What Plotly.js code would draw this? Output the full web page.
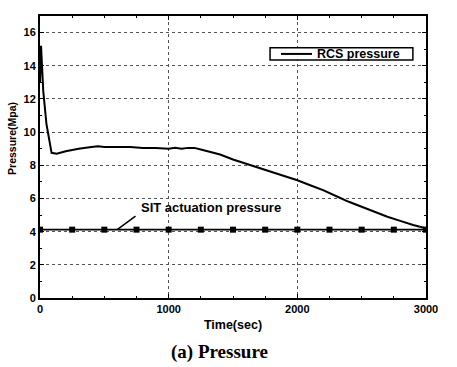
<!DOCTYPE html>
<html><head><meta charset="utf-8">
<script src="https://cdn.plot.ly/plotly-3.0.1.min.js"></script>
<style>html,body{margin:0;padding:0;background:#fff;}#chart{width:457px;height:367px;}</style>
</head><body><div id="chart"></div>
<script>
const rcsTime = [0, 8, 25, 50, 90, 130, 200, 300, 400, 450, 500, 550, 600, 700, 800, 900, 1000, 1050, 1100, 1150, 1200, 1250, 1300, 1400, 1500, 1600, 1700, 1800, 1900, 2000, 2100, 2200, 2300, 2400, 2500, 2600, 2700, 2800, 2900, 3000];
const rcsPressure = [13.0, 15.2, 12.5, 10.5, 8.75, 8.7, 8.85, 9.0, 9.1, 9.15, 9.1, 9.12, 9.1, 9.1, 9.05, 9.05, 9.0, 9.05, 9.0, 9.05, 9.05, 8.95, 8.85, 8.65, 8.35, 8.1, 7.85, 7.6, 7.35, 7.1, 6.8, 6.5, 6.15, 5.8, 5.5, 5.2, 4.9, 4.65, 4.4, 4.2];
const sitTime = [0, 250, 500, 750, 1000, 1250, 1500, 1750, 2000, 2250, 2500, 2750, 3000];
const sitPressure = [4.12, 4.12, 4.12, 4.12, 4.12, 4.12, 4.12, 4.12, 4.12, 4.12, 4.12, 4.12, 4.12];
const xTicks = [0, 1000, 2000, 3000];
const yTicks = [0, 2, 4, 6, 8, 10, 12, 14, 16];
const legendLabel = 'RCS pressure';
const sitLabel = 'SIT actuation pressure';

const sans = 'Liberation Sans, Arial, sans-serif';
const tickFont = {family: sans, size: 11, color: '#000', weight: 'bold'};
const data = [
  {x: rcsTime, y: rcsPressure, type: 'scatter', mode: 'lines', name: legendLabel,
   line: {color: '#000', width: 2}},
  {x: sitTime, y: sitPressure, type: 'scatter', mode: 'lines+markers', name: sitLabel,
   line: {color: '#000', width: 1.8}, marker: {symbol: 'square', size: 6, color: '#000'}}
];
const layout = {
  width: 457, height: 367,
  margin: {l: 40, r: 31, t: 16, b: 69},
  paper_bgcolor: '#fff', plot_bgcolor: '#fff',
  showlegend: false,
  xaxis: {range: [0, 3000], tickvals: xTicks, ticks: 'inside', ticklen: 4, tickcolor: '#000',
    showline: true, linecolor: '#000', linewidth: 2, mirror: 'ticks', zeroline: false,
    showgrid: true, gridcolor: '#555', griddash: 'dot', gridwidth: 1,
    minor: {dtick: 250, ticks: 'inside', ticklen: 2, tickcolor: '#000', showgrid: false},
    tickfont: tickFont,
    title: {text: 'Time(sec)', font: {family: sans, size: 12.5, color: '#000', weight: 'bold'}, standoff: 6}},
  yaxis: {range: [0, 17], tickvals: yTicks, ticks: 'inside', ticklen: 4, tickcolor: '#000',
    showline: true, linecolor: '#000', linewidth: 2, mirror: 'ticks', zeroline: false,
    showgrid: true, gridcolor: '#555', griddash: 'dot', gridwidth: 1,
    minor: {dtick: 1, ticks: 'inside', ticklen: 2, tickcolor: '#000', showgrid: false},
    tickfont: tickFont},
  shapes: [
    {type: 'rect', xref: 'paper', yref: 'paper', x0: 0.596, x1: 0.966, y0: 0.844, y1: 0.887,
     line: {color: '#000', width: 1.5}, fillcolor: '#fff', layer: 'above'},
    {type: 'line', xref: 'paper', yref: 'paper', x0: 0.6244, x1: 0.7047, y0: 0.8655, y1: 0.8655,
     line: {color: '#000', width: 2}, layer: 'above'}
  ],
  annotations: [
    {x: 0.712, y: 0.8655, xref: 'paper', yref: 'paper', xanchor: 'left', yanchor: 'middle', showarrow: false,
     text: legendLabel, font: {family: sans, size: 12.5, color: '#000', weight: 'bold'}},
    {x: 600, y: 4.12, xref: 'x', yref: 'y', ax: 754, ay: 5.0, axref: 'x', ayref: 'y',
     text: '', showarrow: true, arrowhead: 0, arrowwidth: 1.5, arrowcolor: '#000'},
    {x: 770, y: 5.45, xref: 'x', yref: 'y', xanchor: 'left', yanchor: 'middle', showarrow: false,
     text: sitLabel, font: {family: sans, size: 13, color: '#000', weight: 'bold'}},
    {x: -0.073, y: 0.567, xref: 'paper', yref: 'paper', xanchor: 'center', yanchor: 'middle', showarrow: false,
     textangle: -90, text: 'Pressure(Mpa)', font: {family: sans, size: 10.5, color: '#000', weight: 'bold'}},
    {x: 0.466, y: -0.191, xref: 'paper', yref: 'paper', xanchor: 'center', yanchor: 'middle', showarrow: false,
     text: '(a) Pressure', font: {family: 'Liberation Serif, Times New Roman, serif', size: 19, color: '#000', weight: 'bold'}}
  ]
};
Plotly.newPlot('chart', data, layout, {displayModeBar: false, staticPlot: true});
</script></body></html>
